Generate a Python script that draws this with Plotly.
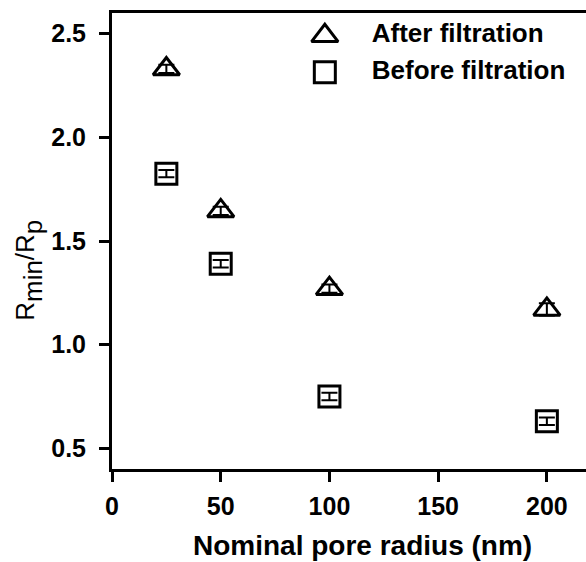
import plotly.graph_objects as go

radius = [25, 50, 100, 200]
after = [2.33, 1.645, 1.27, 1.17]
after_err = [0.02, 0.02, 0.02, 0.03]
before = [1.825, 1.39, 0.75, 0.63]
before_err = [0.018, 0.018, 0.018, 0.018]
series_names = ["After filtration", "Before filtration"]

FONT = "Liberation Sans, Arial, sans-serif"
TRI = dict(symbol="triangle-up-open", size=23, color="black", line=dict(width=3, color="black"))
SQ = dict(symbol="square-open", size=21, color="black", line=dict(width=3, color="black"))

fig = go.Figure()
fig.add_trace(go.Scatter(
    x=radius, y=after, mode="markers", name=series_names[0], marker=TRI,
    error_y=dict(type="data", array=after_err, color="black", thickness=2, width=8),
))
fig.add_trace(go.Scatter(
    x=radius, y=before, mode="markers", name=series_names[1], marker=SQ,
    error_y=dict(type="data", array=before_err, color="black", thickness=2, width=8),
))

# legend key drawn on an overlay axis in [0,1] units
key_x, text_x = 0.449, 0.548
key_y = [0.950, 0.870]
fig.add_trace(go.Scatter(x=[key_x], y=[key_y[0]], xaxis="x2", yaxis="y2", mode="markers",
                         marker=TRI, hoverinfo="skip"))
fig.add_trace(go.Scatter(x=[key_x], y=[key_y[1]], xaxis="x2", yaxis="y2", mode="markers",
                         marker=SQ, hoverinfo="skip"))
fig.add_trace(go.Scatter(x=[text_x, text_x], y=key_y, xaxis="x2", yaxis="y2", mode="text",
                         text=series_names, textposition="middle right",
                         textfont=dict(size=26, family=FONT, weight="bold", color="black"),
                         hoverinfo="skip"))

ytitle = ('<span style="font-size:26px">R</span><sub>min</sub>'
          '<span style="font-size:26px">/R</span><sub>p</sub>')

fig.update_layout(
    width=586, height=562,
    margin=dict(l=112, r=0, t=13, b=93),
    paper_bgcolor="white", plot_bgcolor="white",
    font=dict(family=FONT, color="black"),
    showlegend=False,
    xaxis2=dict(overlaying="x", range=[0, 1], visible=False, fixedrange=True),
    yaxis2=dict(overlaying="y", range=[0, 1], visible=False, fixedrange=True),
    annotations=[
        dict(text="Nominal pore radius (nm)", xref="paper", yref="paper",
             x=0.528, y=-0.168, xanchor="center", yanchor="middle", showarrow=False,
             font=dict(size=28, family=FONT, weight="bold", color="black")),
        dict(text=ytitle, xref="paper", yref="paper", textangle=-90,
             x=-0.175, y=0.435, xanchor="center", yanchor="middle", showarrow=False,
             font=dict(size=37, family=FONT, color="black")),
    ],
)
fig.update_layout(xaxis=dict(
    range=[0, 218], tickvals=[0, 50, 100, 150, 200],
    showline=True, linewidth=3, linecolor="black", mirror=True,
    ticks="outside", ticklen=10, tickwidth=3, tickcolor="black",
    ticklabelstandoff=3,
    showgrid=False, zeroline=False,
    tickfont=dict(size=25, family=FONT, weight="bold"),
))
fig.update_layout(yaxis=dict(
    range=[0.4, 2.6], tickvals=[0.5, 1.0, 1.5, 2.0, 2.5], ticktext=["0.5", "1.0", "1.5", "2.0", "2.5"],
    showline=True, linewidth=3, linecolor="black", mirror=False,
    ticks="outside", ticklen=10, tickwidth=3, tickcolor="black",
    ticklabelstandoff=8,
    showgrid=False, zeroline=False,
    tickfont=dict(size=25, family=FONT, weight="bold"),
))

fig.write_html("out.html")
